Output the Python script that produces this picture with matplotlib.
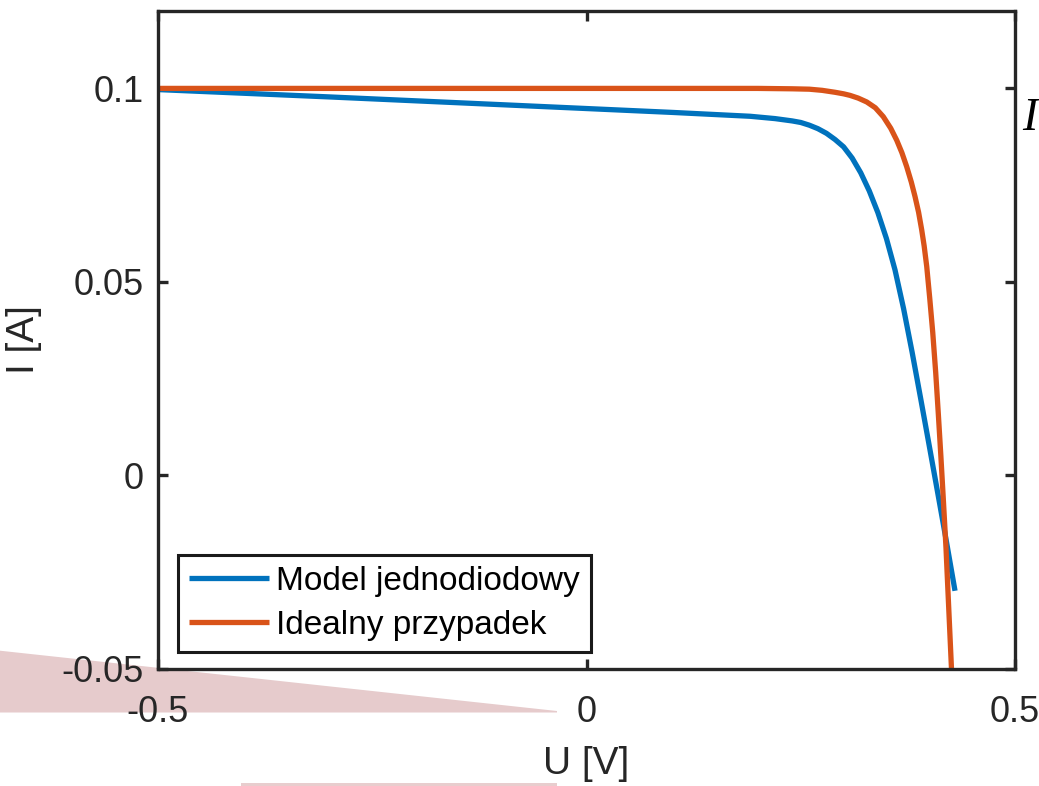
import matplotlib
matplotlib.use('Agg')
import matplotlib.pyplot as plt
from matplotlib.patches import Polygon, Rectangle

# ---- data ----
u_model = [-0.5, -0.3, -0.1, 0.0, 0.1, 0.191, 0.22, 0.24, 0.25, 0.26, 0.27, 0.28,
           0.29, 0.30, 0.31, 0.32, 0.33, 0.34, 0.35, 0.36, 0.37, 0.38, 0.39, 0.40,
           0.41, 0.42, 0.43]
i_model = [0.0997, 0.0978, 0.0958, 0.0948, 0.0938, 0.0928, 0.0922, 0.0916, 0.0912,
           0.0905, 0.0896, 0.0884, 0.0868, 0.0849, 0.0820, 0.0782, 0.0735, 0.0679,
           0.0612, 0.0531, 0.0431, 0.0318, 0.0198, 0.0076, -0.0047, -0.0171, -0.0298]

u_ideal = [-0.5, 0.2, 0.24, 0.26, 0.275, 0.29, 0.3, 0.3075, 0.317, 0.327, 0.337, 0.3463,
           0.355, 0.362, 0.368, 0.3736, 0.379, 0.3833, 0.3875, 0.3911, 0.394, 0.397,
           0.4005, 0.404, 0.4075, 0.4105, 0.4135, 0.4163, 0.4195, 0.4260]
i_ideal = [0.1, 0.1, 0.0999, 0.0998, 0.0995, 0.0990, 0.0986, 0.0982, 0.0975, 0.0965,
           0.0950, 0.0927, 0.0897, 0.0866, 0.0834, 0.0798, 0.0758, 0.0721, 0.0680,
           0.0635, 0.0593, 0.0540, 0.0458, 0.0370, 0.0265, 0.0160, 0.0050, -0.0059,
           -0.0188, -0.0505]

series_labels = ['Model jednodiodowy', 'Idealny przypadek']
x_ticks = [-0.5, 0, 0.5]
x_ticklabels = ['-0.5', '0', '0.5']
y_ticks = [-0.05, 0, 0.05, 0.1]
y_ticklabels = ['-0.05', '0', '0.05', '0.1']

W, H = 1039, 786
plt.rcParams['font.family'] = ['Liberation Sans', 'DejaVu Sans']
plt.rcParams['axes.unicode_minus'] = False

fig = plt.figure(figsize=(W / 100, H / 100), dpi=100)

def fx(px):
    return px / W

def fy(py):
    return 1 - py / H

# decorative pink artefacts behind the axes
tri = Polygon([(fx(0), fy(650.7)), (fx(557), fy(711)), (fx(557), fy(712.5)), (fx(0), fy(712.5))],
              closed=True, transform=fig.transFigure, facecolor='#E6CBCC', edgecolor='none', zorder=-5)
fig.patches.append(tri)
bar = Rectangle((fx(241), fy(786)), fx(557) - fx(241), fy(782.5) - fy(786),
                transform=fig.transFigure, facecolor='#E8CDCE', edgecolor='none', zorder=-5)
fig.patches.append(bar)

left, right, top, bottom = 158, 1015, 11, 669
ax = fig.add_axes([fx(left), fy(bottom), fx(right) - fx(left), fy(top) - fy(bottom)])

dark = '#262626'
ax.plot(u_model, i_model, color='#0072BD', lw=3.8, label=series_labels[0],
        solid_capstyle='butt', solid_joinstyle='round')
ax.plot(u_ideal, i_ideal, color='#D95319', lw=3.8, label=series_labels[1],
        solid_capstyle='butt', solid_joinstyle='round')

ax.set_xlim(-0.5, 0.5)
ax.set_ylim(-0.05, 0.12)
ax.set_xticks(x_ticks)
ax.set_xticklabels(x_ticklabels)
ax.set_yticks(y_ticks)
ax.set_yticklabels(y_ticklabels)

for s in ax.spines.values():
    s.set_linewidth(2.4)
    s.set_color(dark)

ax.tick_params(axis='both', which='major', direction='in', length=7.2, width=2.4,
               color=dark, labelcolor=dark, labelsize=26, top=True, right=True)
ax.tick_params(axis='x', pad=19)
ax.tick_params(axis='y', pad=10)

ax.set_xlabel('U [V]', fontsize=28, color=dark, labelpad=11)
ax.set_ylabel('I [A]', fontsize=28, color=dark, labelpad=14)

leg = ax.legend(loc='lower left', bbox_to_anchor=((178 - left) / (right - left), (bottom - 652) / (bottom - top)),
                borderaxespad=0, fontsize=24, handlelength=2.4, handletextpad=0.22,
                borderpad=0.33, labelspacing=0.39, fancybox=False, framealpha=1, edgecolor='#1a1a1a')
leg.get_frame().set_linewidth(2.2)
for t in leg.get_texts():
    t.set_color('black')

fig.text(fx(1022), fy(119), 'I', fontfamily='Liberation Serif', style='italic', fontsize=33,
         va='center', ha='left', color='black')

fig.savefig('out.png', dpi=100)
